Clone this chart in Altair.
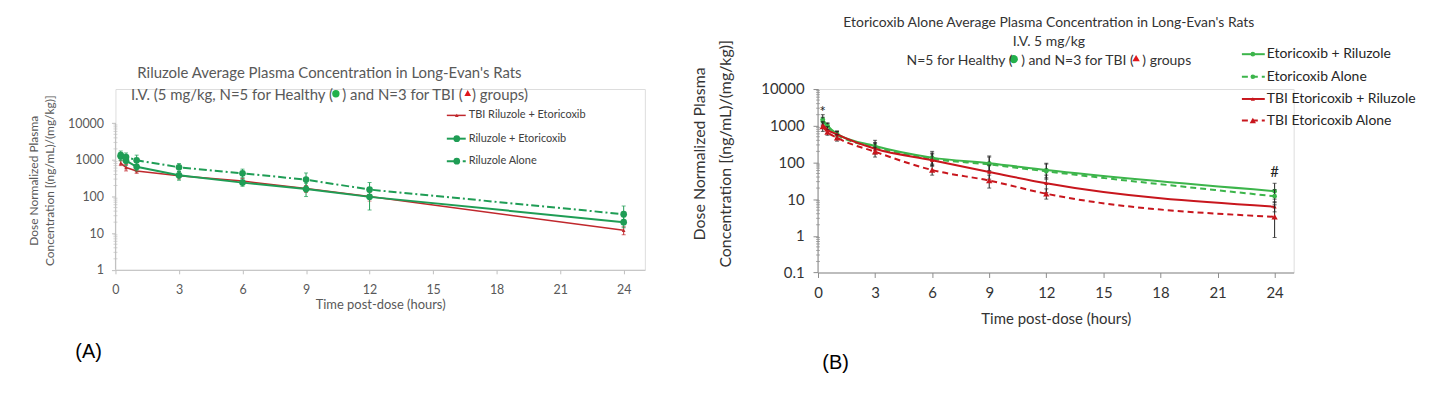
import altair as alt
import pandas as pd

FONT = "Lato"

HOURS = [0.25, 0.5, 1, 3, 6, 9, 12, 24]
X_TICKS = [0, 3, 6, 9, 12, 15, 18, 21, 24]
A_Y_TICKS = [1, 10, 100, 1000, 10000]
B_Y_TICKS = [0.1, 1, 10, 100, 1000, 10000]
MANTISSAS = [2, 3, 4, 5, 6, 7, 8, 9]

# ---------------- Panel A : Riluzole ----------------
A_SERIES = ["TBI Riluzole + Etoricoxib", "Riluzole + Etoricoxib", "Riluzole Alone"]
A_TBI_RE = [820, 620, 500, 370, 265, 165, 100, 12]
A_TBI_RE_LO = [700, 500, 430, 300, 220, 130, 75, 9]
A_TBI_RE_HI = [950, 750, 580, 440, 310, 200, 130, 15]
A_RE = [1250, 950, 650, 380, 240, 160, 98, 20]
A_RE_LO = [950, 700, 500, 280, 190, 100, 43, 14]
A_RE_HI = [1550, 1250, 850, 480, 300, 230, 160, 28]
A_RA = [1350, 1200, 980, 630, 430, 290, 155, 33]
A_RA_LO = [1050, 900, 720, 480, 330, 190, 100, 20]
A_RA_HI = [1750, 1550, 1350, 800, 560, 440, 240, 55]
A_AXIS_SPAN = [1, 10000]           # panel A's y axis line runs from 1 to 10000
A_Y_TOP = 10 ** 4.935              # free space above the axis line, as in the original

# ---------------- Panel B : Etoricoxib ----------------
B_SERIES = ["Etoricoxib + Riluzole", "Etoricoxib Alone",
            "TBI Etoricoxib + Riluzole", "TBI Etoricoxib Alone"]
B_ER = [1500, 1000, 600, 280, 135, 95, 62, 16.5]
B_ER_LO = [1100, 800, 460, 190, 90, 60, 38, 10]
B_ER_HI = [2000, 1200, 720, 400, 200, 150, 95, 27]
B_EA = [1350, 950, 570, 260, 125, 88, 57, 12]
B_EA_LO = [1000, 750, 450, 180, 80, 55, 35, 8]
B_EA_HI = [1700, 1150, 700, 350, 180, 140, 90, 18]
B_TR = [1050, 780, 580, 235, 115, 55, 27, 6.2]
B_TR_LO = [850, 620, 450, 170, 80, 35, 15, 4.5]
B_TR_HI = [1300, 950, 700, 330, 170, 85, 45, 8.5]
B_TA = [950, 670, 470, 195, 62, 32, 14, 3.3]
B_TA_LO = [700, 550, 380, 140, 45, 20, 10, 0.9]
B_TA_HI = [1200, 800, 580, 260, 85, 45, 19, 7]
B_AXIS_SPAN = [0.1, 10000]

B_ANNOT_T = [0.25, 24]
B_ANNOT_V = [2300, 55]
B_ANNOT_TXT = ["*", "#"]

A_GREEN = "#1f9d55"
A_RED = "#c0282d"
B_GREEN = "#3cb54b"
B_RED = "#c8161d"
SYM_GREEN = "#22b14c"
SYM_RED = "#e0161b"

GAP = "\u2002\u2009"


def make_panel(cfg):
    w, h = cfg["width"], cfg["height"]
    xdom = [0, 25]
    ydom = cfg["ydom"]
    ax = alt.Axis(values=X_TICKS, title="Time post-dose (hours)", grid=False,
                  domainColor=cfg["axis_color"], tickColor=cfg["axis_color"],
                  tickSize=cfg["tick"], labelPadding=cfg["xlabpad"], labelFont=FONT,
                  labelFontSize=cfg["labsize"], labelColor=cfg["text_color"],
                  titleFont=FONT, titleFontSize=cfg["xtitlesize"], titleFontWeight="normal",
                  titleColor=cfg["text_color"], titlePadding=cfg["xtitlepad"],
                  labelFlush=False, labelOverlap=False)
    ay = alt.Axis(values=cfg["yticks"], format="~g", grid=False, domain=False,
                  title=["Dose Normalized Plasma", "Concentration [(ng/mL)/(mg/kg)]"],
                  tickColor=cfg["axis_color"],
                  tickSize=cfg["tick"], labelPadding=cfg["ylabpad"], labelFont=FONT,
                  labelFontSize=cfg["labsize"], labelColor=cfg["text_color"],
                  titleFont=FONT, titleFontSize=cfg["ytitlesize"], titleFontWeight="normal",
                  titleColor=cfg["text_color"], titleX=cfg["titleX"], titleY=cfg["titleY"],
                  titleAlign="center", titleBaseline="bottom", titleAngle=270,
                  titleLineHeight=cfg["ytitlelh"], labelOverlap=False)

    def X(f):
        return alt.X(f"{f}:Q", scale=alt.Scale(domain=xdom, nice=False, zero=False), axis=ax)

    def Y(f):
        return alt.Y(f"{f}:Q", scale=alt.Scale(type="log", domain=ydom, nice=False), axis=ay)

    layers = []
    # y axis line (drawn from the axis span through the scale)
    span = cfg["span"]
    layers.append(alt.Chart(pd.DataFrame({"lo": [span[0]], "hi": [span[1]]})).mark_rule(
        color=cfg["axis_color"], strokeWidth=1).encode(x=alt.value(0), y=Y("lo"), y2="hi"))
    # minor log ticks on the y axis
    minor = [m * d for d in cfg["yticks"][:-1] for m in MANTISSAS]
    layers.append(alt.Chart(pd.DataFrame({"v": minor})).mark_tick(
        orient="horizontal", size=4, thickness=1, color=cfg["axis_color"]
    ).encode(x=alt.value(0), y=Y("v")))

    for s in cfg["series"]:
        df = pd.DataFrame({"t": HOURS, "v": s["v"], "lo": s["lo"], "hi": s["hi"]})
        base = alt.Chart(df)
        ec = cfg["ecolor"] or s["color"]
        layers.append(base.mark_rule(color=ec, strokeWidth=1).encode(x=X("t"), y=Y("lo"), y2="hi"))
        layers.append(base.mark_tick(orient="horizontal", size=4, thickness=1, color=ec)
                      .encode(x=X("t"), y=Y("lo")))
        layers.append(base.mark_tick(orient="horizontal", size=4, thickness=1, color=ec)
                      .encode(x=X("t"), y=Y("hi")))
        lk = dict(color=s["color"], strokeWidth=s["lw"], interpolate=cfg["interp"])
        if s.get("dash"):
            lk["strokeDash"] = s["dash"]
        layers.append(base.mark_line(**lk).encode(x=X("t"), y=Y("v")))
        layers.append(base.mark_point(filled=True, shape=s["shape"], size=s["size"],
                                      color=s["color"], opacity=1)
                      .encode(x=X("t"), y=Y("v")))

    # manual legend
    lg = cfg["legend"]
    for s, ly in zip(cfg["series"], lg["ys"]):
        one = alt.Chart(pd.DataFrame({"label": [s["name"]]}))
        rk = dict(color=s["color"], strokeWidth=s["lw"])
        if s.get("dash"):
            rk["strokeDash"] = s["dash"]
        layers.append(one.mark_rule(**rk).encode(
            x=alt.value(lg["x0"]), x2=alt.value(lg["x1"]), y=alt.value(ly)))
        layers.append(one.mark_point(filled=True, shape=s["shape"], size=s["size"],
                                     color=s["color"], opacity=1)
                      .encode(x=alt.value(lg["xm"]), y=alt.value(ly)))
        layers.append(one.mark_text(align="left", baseline="middle", font=FONT,
                                    fontSize=lg["size"], color=lg["color"])
                      .encode(x=alt.value(lg["xt"]), y=alt.value(ly), text="label:N"))

    # coloured group symbols in the title line
    for shape, col, (sx, sy), size in cfg["title_syms"]:
        one = alt.Chart(pd.DataFrame({"k": [shape]}))
        layers.append(one.mark_point(filled=True, shape=shape, size=size, color=col, opacity=1)
                      .encode(x=alt.value(sx), y=alt.value(sy)))

    # annotations
    if cfg.get("annot"):
        adf = pd.DataFrame({"t": B_ANNOT_T, "v": B_ANNOT_V, "txt": B_ANNOT_TXT})
        layers.append(alt.Chart(adf).mark_text(font=FONT, fontSize=15, color="#222",
                                               baseline="middle")
                      .encode(x=X("t"), y=Y("v"), text="txt:N"))

    # panel letter
    one = alt.Chart(pd.DataFrame({"label": [cfg["letter"]]}))
    layers.append(one.mark_text(font="Liberation Sans", fontSize=20, color="#000",
                                align="center", baseline="middle")
                  .encode(x=alt.value(cfg["letter_xy"][0]), y=alt.value(cfg["letter_xy"][1]),
                          text="label:N"))
    # invisible spacer that fixes the panel's left / top extent
    sx, sy = cfg["spacer"]
    layers.append(one.mark_text(fontSize=2, opacity=0, baseline="top", align="left")
                  .encode(x=alt.value(sx), y=alt.value(sy), text=alt.value(".")))

    return alt.layer(*layers).properties(
        width=w, height=h,
        title=alt.TitleParams(text=cfg["title"], font=FONT, fontSize=cfg["titlesize"],
                              fontWeight="normal", color=cfg["text_color"], anchor="middle",
                              frame="group", offset=cfg["titleoffset"], dx=cfg["titledx"],
                              lineHeight=cfg["titlelh"]))


cfgA = dict(
    width=532, height=181.7, ydom=[1, A_Y_TOP], yticks=A_Y_TICKS, span=A_AXIS_SPAN,
    axis_color="#bfbfbf", text_color="#595959", tick=4, xlabpad=9.5, ylabpad=8,
    labsize=12.5, xtitlesize=13, ytitlesize=12, xtitlepad=2.5,
    titleX=-75.8, titleY=91.7, ytitlelh=16.6, interp="linear", ecolor=None,
    series=[
        dict(name=A_SERIES[0], v=A_TBI_RE, lo=A_TBI_RE_LO, hi=A_TBI_RE_HI, color=A_RED,
             lw=1.5, shape="triangle-up", size=14),
        dict(name=A_SERIES[1], v=A_RE, lo=A_RE_LO, hi=A_RE_HI, color=A_GREEN,
             lw=2, shape="circle", size=45),
        dict(name=A_SERIES[2], v=A_RA, lo=A_RA_LO, hi=A_RA_HI, color=A_GREEN,
             lw=2, shape="circle", size=45, dash=[8, 3, 2, 3]),
    ],
    legend=dict(ys=[26.5, 49.9, 72.5], x0=333, x1=352, xm=343, xt=355, size=11, color="#404040"),
    letter="(A)", letter_xy=(-27, 264.2), spacer=(-100, 0),
    title=["Riluzole Average Plasma Concentration in Long-Evan's Rats",
           f"I.V. (5 mg/kg, N=5 for Healthy ({GAP}) and N=3 for TBI ({GAP}) groups)"],
    title_syms=[("circle", SYM_GREEN, (221.5, 4.7), 55), ("triangle-up", SYM_RED, (354, 4.0), 45)],
    titlesize=15, titleoffset=-13.7, titledx=-51, titlelh=21.3,
)

cfgB = dict(
    width=478, height=184.4, ydom=[0.1, 10000], yticks=B_Y_TICKS, span=B_AXIS_SPAN,
    axis_color="#8c8c8c", text_color="#333333", tick=5, xlabpad=8, ylabpad=9,
    labsize=15, xtitlesize=15, ytitlesize=16, xtitlepad=11,
    titleX=-110.8, titleY=64.7, ytitlelh=25.5, interp="monotone", ecolor="#222222",
    series=[
        dict(name=B_SERIES[0], v=B_ER, lo=B_ER_LO, hi=B_ER_HI, color=B_GREEN,
             lw=2, shape="circle", size=22),
        dict(name=B_SERIES[1], v=B_EA, lo=B_EA_LO, hi=B_EA_HI, color=B_GREEN,
             lw=2, shape="circle", size=22, dash=[6, 4]),
        dict(name=B_SERIES[2], v=B_TR, lo=B_TR_LO, hi=B_TR_HI, color=B_RED,
             lw=2, shape="triangle-up", size=18),
        dict(name=B_SERIES[3], v=B_TA, lo=B_TA_LO, hi=B_TA_HI, color=B_RED,
             lw=2, shape="triangle-up", size=40, dash=[6, 4]),
    ],
    legend=dict(ys=[-35, -12.3, 10, 31.7], x0=426, x1=449, xm=437, xt=451, size=14, color="#262626"),
    annot=True,
    letter="(B)", letter_xy=(17.7, 275.2), spacer=(-140, -60),
    title=["Etoricoxib Alone Average Plasma Concentration in Long-Evan's Rats",
           "I.V. 5 mg/kg",
           f"N=5 for Healthy ({GAP}) and N=3 for TBI ({GAP}) groups"],
    title_syms=[("circle", SYM_GREEN, (196.7, -30), 70), ("triangle-up", SYM_RED, (319.7, -31), 55)],
    titlesize=14, titleoffset=-38.4, titledx=-7, titlelh=18.8,
)

chart = alt.hconcat(make_panel(cfgA), make_panel(cfgB), spacing=32).properties(
    padding={"left": 7, "top": 6.5, "right": 5, "bottom": 5}
).configure_view(stroke=None).configure(background="white")

chart.save("out.html", embed_options={"renderer": "svg", "actions": False})
